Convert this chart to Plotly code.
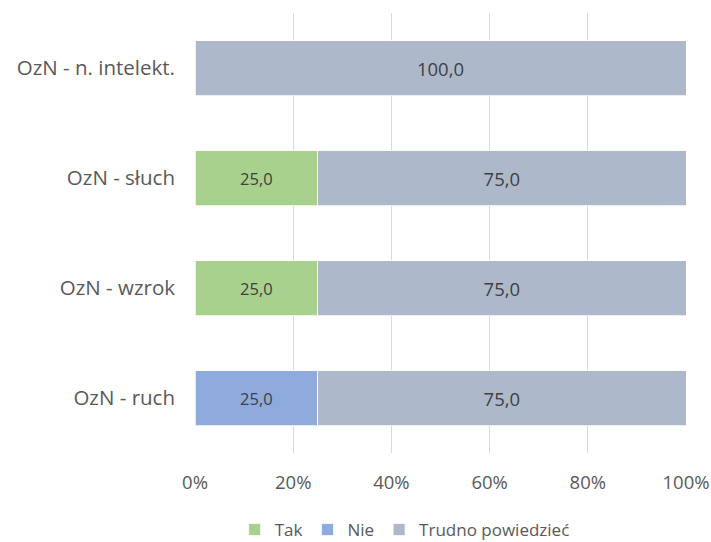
import plotly.graph_objects as go

categories = ["OzN - ruch", "OzN - wzrok", "OzN - słuch", "OzN - n. intelekt."]
series_names = ["Tak", "Nie", "Trudno powiedzieć"]
tak = [0, 25, 25, 0]
nie = [25, 0, 0, 0]
trudno = [75, 75, 75, 100]
tick_vals = [0, 20, 40, 60, 80, 100]
tick_text = ["0%", "20%", "40%", "60%", "80%", "100%"]

colors = ["#A9D18E", "#8FAADC", "#ADB9CA"]
label_sizes = [16.5, 16.5, 18.5]
FONT = "Open Sans"

def fmt(v):
    return ("%.1f" % v).replace(".", ",") if v else ""

fig = go.Figure()
for name, vals, col, fs in zip(series_names, [tak, nie, trudno], colors, label_sizes):
    fig.add_trace(go.Bar(
        y=categories, x=vals, name=name, orientation="h",
        marker=dict(color=col, line=dict(color="white", width=0.75)),
        text=[fmt(v) for v in vals], textposition="inside",
        insidetextanchor="middle", textangle=0,
        textfont=dict(size=fs, color="#404040", family=FONT),
        hoverinfo="skip",
    ))

fig.update_layout(
    barmode="stack", bargap=0.5,
    width=711, height=542,
    margin=dict(l=195, r=25, t=13, b=89, autoexpand=False),
    paper_bgcolor="white", plot_bgcolor="white",
    font=dict(family=FONT, color="#595959"),
    legend=dict(orientation="h", x=0.427, xanchor="center", y=-0.175, yanchor="middle",
                font=dict(size=17, color="#595959"), itemwidth=30, traceorder="normal"),
    xaxis=dict(range=[0, 100], tickvals=tick_vals, ticktext=tick_text,
               showgrid=True, gridcolor="#D9D9D9", gridwidth=1, zeroline=False,
               showline=False, tickfont=dict(size=18.5, color="#595959"),
               ticklabelstandoff=16, ticklabeloverflow="allow",
               automargin=False, fixedrange=True),
    yaxis=dict(showgrid=False, zeroline=False, showline=False, automargin=False,
               tickfont=dict(size=20.5, color="#595959"), ticklabelstandoff=19,
               ticks="", fixedrange=True),
)

fig.write_html(
    "out.html",
    config={"displayModeBar": False, "staticPlot": True},
    post_script="document.body.style.margin='0px';document.body.style.overflow='hidden';",
)
